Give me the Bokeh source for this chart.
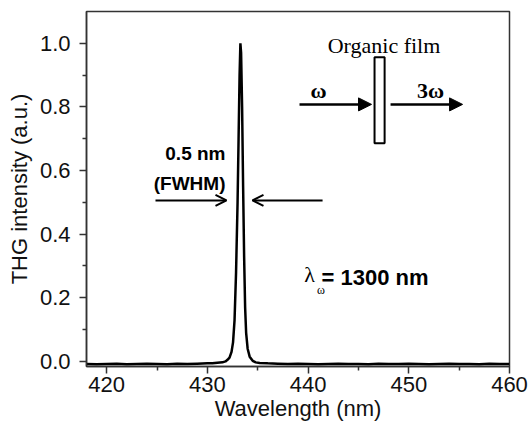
from bokeh.plotting import figure
from bokeh.models import Range1d, FixedTicker, Arrow, OpenHead, NormalHead, Label, BoxAnnotation
from bokeh.embed import file_html
from bokeh.resources import INLINE

# ---- data ----
wavelength = [418.0, 419.0, 420.0, 421.0, 422.0, 423.0, 424.0, 425.0, 426.0, 427.0,
              428.0, 429.0, 430.0, 430.5, 431.0, 431.5, 431.8, 432.0, 432.2, 432.4,
              432.55, 432.7, 432.85, 433.0, 433.1, 433.2, 433.28, 433.35, 433.45, 433.55,
              433.65, 433.75, 433.85, 434.0, 434.2, 434.5, 434.8, 435.2, 436.0, 437.0,
              438.0, 439.0, 440.0, 441.0, 442.0, 443.0, 444.0, 445.0, 446.0, 447.0,
              448.0, 449.0, 450.0, 451.0, 452.0, 453.0, 454.0, 455.0, 456.0, 457.0,
              458.0, 459.0, 460.0]
intensity = [-0.008, -0.009, -0.008, -0.007, -0.009, -0.008, -0.007, -0.008, -0.009, -0.007,
             -0.008, -0.007, -0.006, -0.006, -0.004, -0.003, 0.000, 0.005, 0.012, 0.030,
             0.060, 0.130, 0.280, 0.500, 0.700, 0.900, 1.000, 0.970, 0.800, 0.550,
             0.330, 0.170, 0.090, 0.040, 0.015, 0.002, -0.003, -0.005, -0.006, -0.007,
             -0.008, -0.007, -0.008, -0.009, -0.008, -0.007, -0.008, -0.008, -0.009, -0.007,
             -0.008, -0.008, -0.007, -0.008, -0.009, -0.008, -0.007, -0.008, -0.008, -0.009,
             -0.007, -0.008, -0.008]

x_ticks = [420, 430, 440, 450, 460]
x_minor_ticks = [425, 435, 445, 455]
y_ticks = [0.0, 0.2, 0.4, 0.6, 0.8, 1.0]
y_minor_ticks = [0.1, 0.3, 0.5, 0.7, 0.9]
y_tick_labels = ["0.0", "0.2", "0.4", "0.6", "0.8", "1.0"]

x_label = "Wavelength (nm)"
y_label = "THG intensity (a.u.)"

SANS = "Liberation Sans"
SERIF = "Liberation Serif"
AXIS_COLOR = "#333333"

p = figure(width=530, height=427, output_backend="svg", toolbar_location=None,
           x_range=Range1d(418, 460), y_range=Range1d(-0.016, 1.1),
           min_border_left=86, min_border_right=21, min_border_top=11, min_border_bottom=61)
p.background_fill_color = "white"
p.border_fill_color = "white"
p.outline_line_color = AXIS_COLOR
p.outline_line_width = 1.5
p.xgrid.visible = False
p.ygrid.visible = False

p.line(wavelength, intensity, line_width=2.5, line_color="black")

for ax, ticks, minor in ((p.xaxis[0], x_ticks, x_minor_ticks), (p.yaxis[0], y_ticks, y_minor_ticks)):
    ax.ticker = FixedTicker(ticks=ticks, minor_ticks=minor)
    ax.axis_line_color = AXIS_COLOR
    ax.axis_line_width = 1.5
    ax.major_tick_line_color = AXIS_COLOR
    ax.major_tick_line_width = 1.5
    ax.minor_tick_line_color = AXIS_COLOR
    ax.minor_tick_line_width = 1.5
    ax.major_tick_in = 0
    ax.major_tick_out = 7
    ax.minor_tick_in = 0
    ax.minor_tick_out = 4
    ax.major_label_text_font = SANS
    ax.major_label_text_font_size = "22px"
    ax.major_label_text_color = "#111111"
    ax.axis_label_text_font = SANS
    ax.axis_label_text_font_size = "22px"
    ax.axis_label_text_font_style = "normal"
    ax.axis_label_text_color = "#111111"

p.xaxis[0].axis_label = x_label
p.yaxis[0].axis_label = y_label
p.yaxis[0].major_label_overrides = {t: l for t, l in zip(y_ticks, y_tick_labels)}
p.xaxis[0].major_label_standoff = 3
p.xaxis[0].axis_label_standoff = 1
p.yaxis[0].major_label_standoff = 9
p.yaxis[0].axis_label_standoff = 5


def lab(x, y, text, font, size, style="normal", align="center"):
    p.add_layout(Label(x=x, y=y, text=text, text_align=align, text_baseline="middle",
                       text_font=font, text_font_size=size, text_font_style=style,
                       text_color="black"))


# ---- FWHM annotation ----
lab(431.8, 0.654, "0.5 nm", SANS, "19px", "bold", "right")
lab(431.8, 0.560, "(FWHM)", SANS, "19px", "bold", "right")
p.add_layout(Arrow(end=OpenHead(size=11, line_width=2, line_color="black"),
                   x_start=424.85, y_start=0.506, x_end=431.9, y_end=0.506,
                   line_width=2, line_color="black"))
p.add_layout(Arrow(end=OpenHead(size=11, line_width=2, line_color="black"),
                   x_start=441.44, y_start=0.506, x_end=434.48, y_end=0.506,
                   line_width=2, line_color="black"))

# ---- inset sketch ----
p.add_layout(BoxAnnotation(left=446.6, right=447.6, bottom=0.686, top=0.956,
                           fill_color="white", fill_alpha=1.0, line_color="black",
                           line_alpha=1.0, line_width=2))
lab(447.54, 0.994, "Organic film", SERIF, "22px")
p.add_layout(Arrow(end=NormalHead(size=13, fill_color="black", line_color="black", line_width=1),
                   x_start=439.15, y_start=0.808, x_end=446.3, y_end=0.808,
                   line_width=2.5, line_color="black"))
p.add_layout(Arrow(end=NormalHead(size=13, fill_color="black", line_color="black", line_width=1),
                   x_start=448.19, y_start=0.808, x_end=455.34, y_end=0.808,
                   line_width=2.5, line_color="black"))
lab(441.04, 0.852, "ω", SERIF, "22px", "bold")
lab(452.16, 0.852, "3ω", SERIF, "22px", "bold")

# ---- lambda label ----
lab(440.15, 0.272, "λ", SERIF, "22px")
lab(441.29, 0.225, "ω", SERIF, "12px")
lab(441.34, 0.264, "= 1300 nm", SANS, "22px", "bold", "left")

open("out.html", "w").write(file_html(p, INLINE))
